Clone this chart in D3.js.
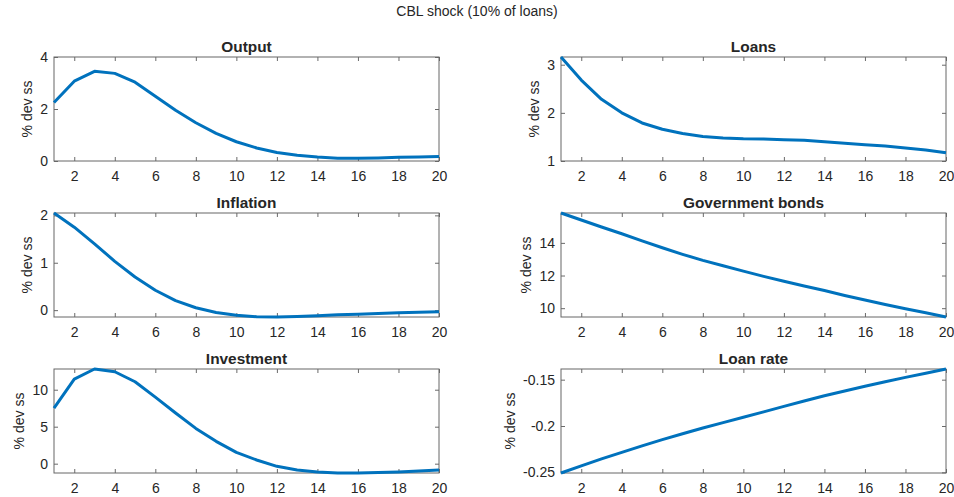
<!DOCTYPE html>
<html>
<head>
<meta charset="utf-8">
<script src="https://cdn.jsdelivr.net/npm/d3@7"></script>
<style>
  body { margin: 0; background: #fff; }
  text { font-family: "Liberation Sans", Arial, sans-serif; fill: #262626; }
</style>
</head>
<body>
<div id="container"></div>
<script>
// impulse responses, periods 1..20
const periods = d3.range(1, 21);
const output = [2.25, 3.07, 3.45, 3.37, 3.03, 2.49, 1.95, 1.47, 1.06, 0.74, 0.50, 0.33, 0.22, 0.15, 0.11, 0.11, 0.12, 0.14, 0.15, 0.17];
const loans = [3.16, 2.68, 2.28, 2.00, 1.79, 1.66, 1.57, 1.51, 1.48, 1.46, 1.455, 1.44, 1.43, 1.40, 1.37, 1.34, 1.31, 1.27, 1.23, 1.17];
const inflation = [2.05, 1.75, 1.40, 1.03, 0.70, 0.42, 0.20, 0.05, -0.05, -0.11, -0.14, -0.145, -0.135, -0.12, -0.10, -0.085, -0.07, -0.057, -0.045, -0.032];
const govBonds = [15.83, 15.40, 14.97, 14.56, 14.12, 13.70, 13.30, 12.93, 12.60, 12.27, 11.95, 11.65, 11.36, 11.08, 10.78, 10.50, 10.23, 9.97, 9.72, 9.46];
const investment = [7.52, 11.44, 12.8, 12.43, 11.08, 9.0, 6.85, 4.77, 3.02, 1.53, 0.5, -0.36, -0.86, -1.13, -1.26, -1.26, -1.2, -1.13, -1.0, -0.86];
const loanRate = [-0.2507, -0.2430, -0.2355, -0.2284, -0.2214, -0.2147, -0.2083, -0.2022, -0.1963, -0.1906, -0.1847, -0.1788, -0.1730, -0.1673, -0.1622, -0.1572, -0.1523, -0.1475, -0.1430, -0.1385];

const titles = ["Output", "Loans", "Inflation", "Government bonds", "Investment", "Loan rate"];
const series = [output, loans, inflation, govBonds, investment, loanRate];
const yDomains = [[0, 4], [1, 3.16], [-0.145, 2.05], [9.46, 15.83], [-1.26, 12.8], [-0.2507, -0.1385]];
const yTicks = [[0, 2, 4], [1, 2, 3], [0, 1, 2], [10, 12, 14], [0, 5, 10], [-0.25, -0.2, -0.15]];
const xTicks = d3.range(2, 21, 2);

width = 954
height = 497

const colLeft = [54, 561];
const rowTop = [57, 213, 369];
const panelW = 385;
const panelH = 104;
const tickLen = 4;

const svg = d3.select('#container')
    .append("svg")
    .attr("width", width)
    .attr("height", height);

svg.append("text")
    .text("CBL shock (10% of loans)")
    .attr("text-anchor", "middle")
    .attr("x", 477)
    .attr("y", 16)
    .style("font-size", "14px");

const fmt = d => String(d);

series.forEach((vals, i) => {
    const x0 = colLeft[i % 2];
    const y0 = rowTop[Math.floor(i / 2)];

    const g = svg.append("g")
        .attr("transform", 'translate(' + x0 + ',' + y0 + ')');

    const x = d3.scaleLinear().domain([1, 20]).range([0, panelW]);
    const y = d3.scaleLinear().domain(yDomains[i]).range([panelH, 0]);

    // inward ticks on all four sides, labels only left and bottom
    g.append("g")
        .attr("transform", 'translate(0,' + panelH + ')')
        .call(d3.axisBottom(x).tickValues(xTicks).tickSize(-tickLen).tickPadding(10).tickFormat(fmt));
    g.append("g")
        .call(d3.axisTop(x).tickValues(xTicks).tickSize(-tickLen).tickFormat(""));
    const yAxis = g.append("g")
        .call(d3.axisLeft(y).tickValues(yTicks[i]).tickSize(-tickLen).tickPadding(6).tickFormat(fmt));
    g.append("g")
        .attr("transform", 'translate(' + panelW + ',0)')
        .call(d3.axisRight(y).tickValues(yTicks[i]).tickSize(-tickLen).tickFormat(""));

    g.selectAll(".domain").remove();
    g.selectAll(".tick line").attr("stroke", "#444").attr("stroke-width", 0.8);
    g.selectAll(".tick text").style("font-size", "14px").attr("fill", "#262626").attr("font-family", null);

    // the box
    g.append("rect")
        .attr("x", 0)
        .attr("y", 0)
        .attr("width", panelW)
        .attr("height", panelH)
        .attr("fill", "none")
        .attr("stroke", "#666")
        .attr("stroke-width", 1);

    const clipId = "clip" + i;
    g.append("clipPath").attr("id", clipId)
        .append("rect").attr("x", -2).attr("y", -2).attr("width", panelW + 4).attr("height", panelH + 4);

    g.append("path")
        .datum(vals)
        .attr("clip-path", 'url(#' + clipId + ')')
        .attr("fill", "none")
        .attr("stroke", "#0072BD")
        .attr("stroke-width", 3)
        .attr("stroke-linejoin", "round")
        .attr("d", d3.line().x((d, j) => x(periods[j])).y(d => y(d)));

    g.append("text")
        .text(titles[i])
        .attr("text-anchor", "middle")
        .attr("x", panelW / 2)
        .attr("y", -5)
        .style("font-size", "15.4px")
        .style("font-weight", "bold")
        .attr("fill", "#000");

    // ylabel sits left of the widest tick label
    let maxW = 0;
    yAxis.selectAll(".tick text").each(function () { maxW = Math.max(maxW, this.getComputedTextLength()); });
    const lx = -(6 + maxW + 8);
    g.append("text")
        .text("% dev ss")
        .attr("text-anchor", "middle")
        .attr("transform", 'translate(' + lx + ',' + (panelH / 2) + ') rotate(-90)')
        .style("font-size", "14px");
});
</script>
</body>
</html>
